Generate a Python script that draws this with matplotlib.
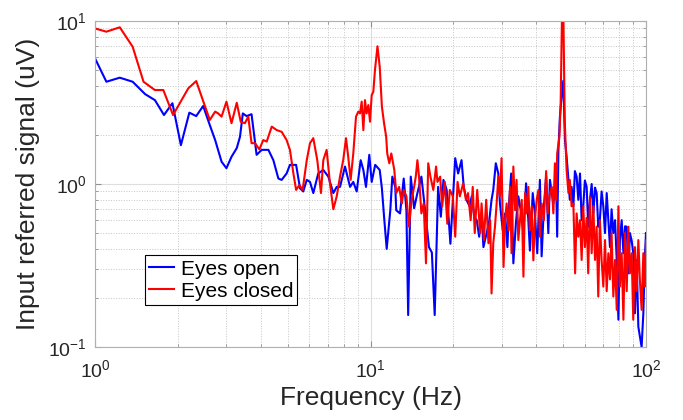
import numpy as np
import matplotlib
matplotlib.use("Agg")
import matplotlib.pyplot as plt
from matplotlib.ticker import LogLocator, NullFormatter

plt.rcParams['font.family'] = ['Liberation Sans', 'DejaVu Sans']
plt.rcParams['mathtext.default'] = 'regular'

# Eyes open (blue) - frequency in Hz, signal in uV
freq_open = [1.0, 1.1, 1.23, 1.37, 1.52, 1.65, 1.78, 1.91, 2.05, 2.2, 2.33, 2.47,
             2.61, 2.73, 2.88, 3.0, 3.13, 3.27, 3.36, 3.44, 3.55, 3.7,
             3.86, 4.03, 4.26, 4.44, 4.63, 4.76, 4.96, 5.1, 5.37, 5.55,
             5.7, 5.87, 6.03, 6.2, 6.46, 6.74, 7.03, 7.33, 7.54, 7.75,
             8.08, 8.43, 8.66, 8.91, 9.21, 9.42, 9.63, 9.9, 10.1, 10.4,
             10.8, 11.0, 11.2, 11.45, 11.8, 12.0, 12.3, 12.4, 12.8, 13.2,
             13.5, 13.7, 14.0, 14.4, 14.8, 15.3, 15.8, 16.3, 16.7, 17.1,
             17.6, 18.0, 18.4, 18.9, 19.5, 20.3, 20.8,
             21.4, 21.8, 22.3, 22.9, 23.3, 23.8, 24.3, 24.8, 25.3, 25.7,
             26.4, 27.0, 27.5, 27.9, 28.5, 29.1, 29.5, 30.2, 30.8, 31.4,
             31.9, 32.4, 33.0, 33.7, 34.4, 35.1, 35.9, 36.7, 37.4, 37.9,
             38.8, 39.5, 40.3, 41.2, 41.8, 42.6, 43.4, 44.2, 44.8, 46.1,
             47.1, 47.6, 48.1,
             48.7, 49.4, 50.1, 50.8, 51.5, 52.3, 52.9, 53.7, 54.5, 55.2,
             56.0, 56.8, 57.6, 58.4, 59.2, 60.0, 60.9, 61.7, 62.6, 63.5,
             64.4, 65.3, 66.2, 67.1, 68.0, 69.0, 70.0, 71.0, 72.0, 73.0,
             74.0, 75.0, 76.1, 77.2, 78.3, 79.4, 80.4, 81.6, 82.8, 83.9,
             85.1, 86.3, 87.4, 88.7, 89.9, 91.2, 92.5, 93.8, 95.0, 96.4,
             97.8, 99.2, 100.0]
sig_open = [5.9, 4.24, 4.49, 4.24, 3.56, 3.27, 2.65, 3.13, 1.73, 2.74, 2.61, 3.01,
            2.30, 1.86, 1.37, 1.25, 1.47, 1.66, 1.95, 2.71, 2.61, 2.68,
            1.51, 1.62, 1.62, 1.40, 1.08, 1.06, 1.16, 1.31, 1.31, 0.94,
            0.90, 1.06, 1.03, 0.88, 1.16, 1.22, 1.11, 0.88, 0.96, 0.96,
            1.28, 0.96, 1.03, 0.90, 1.40, 1.22, 0.96, 1.51, 1.03, 1.31,
            1.22, 0.94, 0.63, 0.40, 0.69, 1.11, 0.96, 0.69, 0.66, 1.08,
            0.69, 0.157, 1.11, 0.71, 0.88, 1.11, 0.68, 0.41, 0.38, 0.157,
            0.96, 0.63, 1.06, 0.92, 0.43, 1.44, 1.16,
            1.40, 0.96, 0.80, 0.73, 0.84, 0.63, 0.60, 0.475, 0.66, 0.41,
            0.50, 0.60, 0.80, 0.92, 1.34, 1.16, 0.76, 0.52, 0.66, 0.41,
            0.80, 1.16, 0.326, 0.57, 0.84, 0.69, 0.50, 1.01, 0.60, 0.39,
            0.88, 0.66, 0.376, 1.06, 0.36, 0.73, 1.11, 0.50, 1.06, 0.76,
            1.16, 0.475, 1.62,
            2.59, 3.44, 4.3, 1.86, 1.47, 1.06, 0.80, 0.96, 0.73, 1.2,
            1.11, 0.80, 1.16, 0.60, 0.73, 1.05, 0.96, 0.547, 0.80, 1.0,
            0.66, 0.95, 0.88, 0.547, 0.60, 0.9, 0.73, 0.50, 0.88, 0.60,
            0.41, 0.7, 0.50, 0.6, 0.342, 0.147, 0.453, 0.6, 0.376, 0.55,
            0.547, 0.283, 0.50, 0.45, 0.376, 0.161, 0.342, 0.133, 0.116, 0.10,
            0.161, 0.376, 0.50]

# Eyes closed (red)
freq_closed = [1.0, 1.1, 1.23, 1.37, 1.5, 1.65, 1.77, 1.92, 2.18, 2.33,
               2.61, 2.73, 2.80, 2.88, 3.0, 3.13, 3.27, 3.38, 3.5, 3.6,
               3.7, 3.81, 3.95, 4.08, 4.2, 4.38, 4.57, 4.76, 4.96, 5.1,
               5.25, 5.37, 5.52, 5.67, 5.87, 6.03, 6.2, 6.41, 6.61, 6.74,
               6.93, 7.13, 7.33, 7.54, 7.75, 7.96, 8.15, 8.3, 8.47, 8.66,
               8.86, 9.03, 9.16, 9.29, 9.42, 9.55, 9.68, 9.82, 9.96, 10.1,
               10.24, 10.38, 10.6, 10.8, 11.0, 11.2, 11.4, 11.5, 11.7, 11.9,
               12.2, 12.4, 12.7, 13.0, 13.2, 13.5, 13.8, 14.1, 14.4, 14.6,
               14.8, 15.0, 15.3, 15.6, 15.9, 16.2, 16.5, 16.9, 17.3, 17.5,
               17.9, 18.2, 18.6, 19.0, 19.4, 19.9, 20.3, 20.7, 21.1, 21.7,
               22.2, 22.6, 23.1, 23.5, 23.9, 24.4, 25.0, 25.3, 25.8, 26.3,
               26.8, 27.2, 27.5, 27.9, 28.3, 28.7, 29.1, 29.5, 29.9, 30.4,
               30.8, 31.2, 31.7, 32.1, 32.5, 33.0, 33.5, 33.9, 34.4, 34.9,
               35.4, 35.9, 36.4, 36.9, 37.4, 37.9, 38.5, 39.0, 39.5, 40.1,
               40.7, 41.2, 41.8, 42.6, 43.4, 44.0, 44.8, 45.5, 46.1, 46.7,
               47.2, 47.6, 48.5, 49.0, 49.6, 50.1, 50.7, 51.5, 52.3, 52.9,
               53.7, 54.5, 55.3, 56.0, 56.8, 57.6, 58.4, 59.2, 60.0, 60.9,
               61.7, 62.6, 63.5, 64.4, 65.3, 66.2, 67.1, 68.0, 69.0, 70.0,
               71.0, 72.0, 73.0, 74.0, 75.0, 76.1, 77.2, 78.3, 79.4, 80.4,
               81.6, 82.8, 83.9, 85.1, 86.3, 87.4, 88.7, 89.9, 91.2, 92.5,
               93.8, 95.0, 96.4, 97.8, 99.2, 100.0]
sig_closed = [9.0, 8.6, 9.15, 6.95, 4.24, 3.77, 3.77, 2.65, 3.86, 4.28,
              2.47, 2.78, 2.71, 2.59, 3.2, 2.36, 3.15, 2.41, 2.36, 2.59,
              1.78, 1.78, 1.63, 1.86, 1.82, 2.25, 2.14, 2.09, 1.86, 1.62,
              1.16, 0.92, 0.986, 0.92, 1.40, 1.78, 1.91, 1.40, 0.88, 1.40,
              1.62, 1.0, 0.70, 0.84, 1.11, 1.40, 1.91, 1.47, 1.06, 1.54,
              2.59, 2.78, 2.71, 3.2, 2.14, 3.27, 2.71, 3.05, 2.41, 3.51,
              3.68, 5.0, 7.0, 5.25, 2.98, 2.36, 1.95, 1.54, 1.34, 1.54,
              1.22, 0.88, 0.96, 0.76, 0.92, 0.84, 0.547, 0.80, 0.96, 1.11,
              1.40, 1.11, 0.66, 0.76, 0.326, 1.34, 1.11, 0.92, 1.28, 1.03,
              1.11, 0.73, 1.03, 0.57, 0.92, 0.84, 0.475, 1.03, 0.84, 1.01,
              0.80, 0.88, 0.60, 0.96, 0.50, 0.92, 0.50, 0.76, 0.453, 0.80,
              0.433, 0.60, 0.213, 0.433, 0.547, 0.76, 1.11, 0.84, 1.44, 0.31,
              0.60, 0.76, 0.52, 0.96, 0.376, 1.28, 0.69, 1.06, 0.453, 0.60,
              0.80, 0.27, 0.88, 0.66, 0.96, 0.52, 0.73, 0.34, 0.60, 0.80,
              0.92, 0.475, 0.76, 0.60, 1.2, 0.66, 0.88, 0.96, 0.66, 1.34,
              0.80, 1.54, 1.95, 3.13, 12.0, 12.0, 2.47, 1.22, 0.88, 1.06,
              0.73, 0.76, 0.283, 0.66, 0.475, 0.60, 0.342, 0.73, 0.41, 0.62,
              0.283, 0.83, 0.376, 0.73, 0.342, 0.547, 0.204, 0.60, 0.342, 0.235,
              0.453, 0.22, 0.376, 0.26, 0.50, 0.204, 0.342, 0.169, 0.73, 0.235,
              0.376, 0.147, 0.50, 0.22, 0.547, 0.283, 0.376, 0.147, 0.41, 0.22,
              0.453, 0.258, 0.169, 0.376, 0.235, 0.45]

assert len(freq_open) == len(sig_open)
assert len(freq_closed) == len(sig_closed)

fig = plt.figure(figsize=(6.83, 4.2), dpi=100)
ax = fig.add_axes([95 / 683, 1 - 347 / 420, (646 - 95) / 683, (347 - 21) / 420])

ax.plot(freq_open, sig_open, color=(0, 0, 1), linewidth=1.5, label="Eyes open")
ax.plot(freq_closed, sig_closed, color=(1, 0, 0), linewidth=1.5, label="Eyes closed")

ax.set_xscale("log")
ax.set_yscale("log")
ax.set_xlim(1, 100)
ax.set_ylim(0.1, 10)
ax.xaxis.set_minor_locator(LogLocator(base=10, subs=np.arange(2, 10)))
ax.yaxis.set_minor_locator(LogLocator(base=10, subs=np.arange(2, 10)))
ax.xaxis.set_minor_formatter(NullFormatter())
ax.yaxis.set_minor_formatter(NullFormatter())

ax.grid(True, which="major", color="#dedede", linestyle="-", linewidth=0.8)
ax.grid(True, which="minor", color="#c4c4c4", linestyle=":", linewidth=0.7)
ax.set_axisbelow(True)

for sp in ax.spines.values():
    sp.set_color("#b0b0b0")
    sp.set_linewidth(0.8)
ax.tick_params(which="both", direction="in", top=True, right=True,
               color="#909090", labelcolor="#262626", labelsize=14)
ax.tick_params(which="major", length=4)
ax.tick_params(which="minor", length=2)
ax.tick_params(axis="x", which="major", pad=9)
ax.tick_params(axis="y", which="major", pad=6)

ax.set_xlabel("Frequency (Hz)", fontsize=19, color="#262626", labelpad=3)
ax.set_ylabel("Input referred signal (uV)", fontsize=19, color="#262626", labelpad=6)

leg = ax.legend(loc="lower left", bbox_to_anchor=(0.091, 0.129), fontsize=15,
                frameon=True, fancybox=False, framealpha=1, edgecolor="black",
                borderaxespad=0, handlelength=1.2, handletextpad=0.3,
                borderpad=0.2, labelspacing=0.15)
leg.get_frame().set_linewidth(0.8)

plt.savefig("out.png", dpi=100)
plt.close()
